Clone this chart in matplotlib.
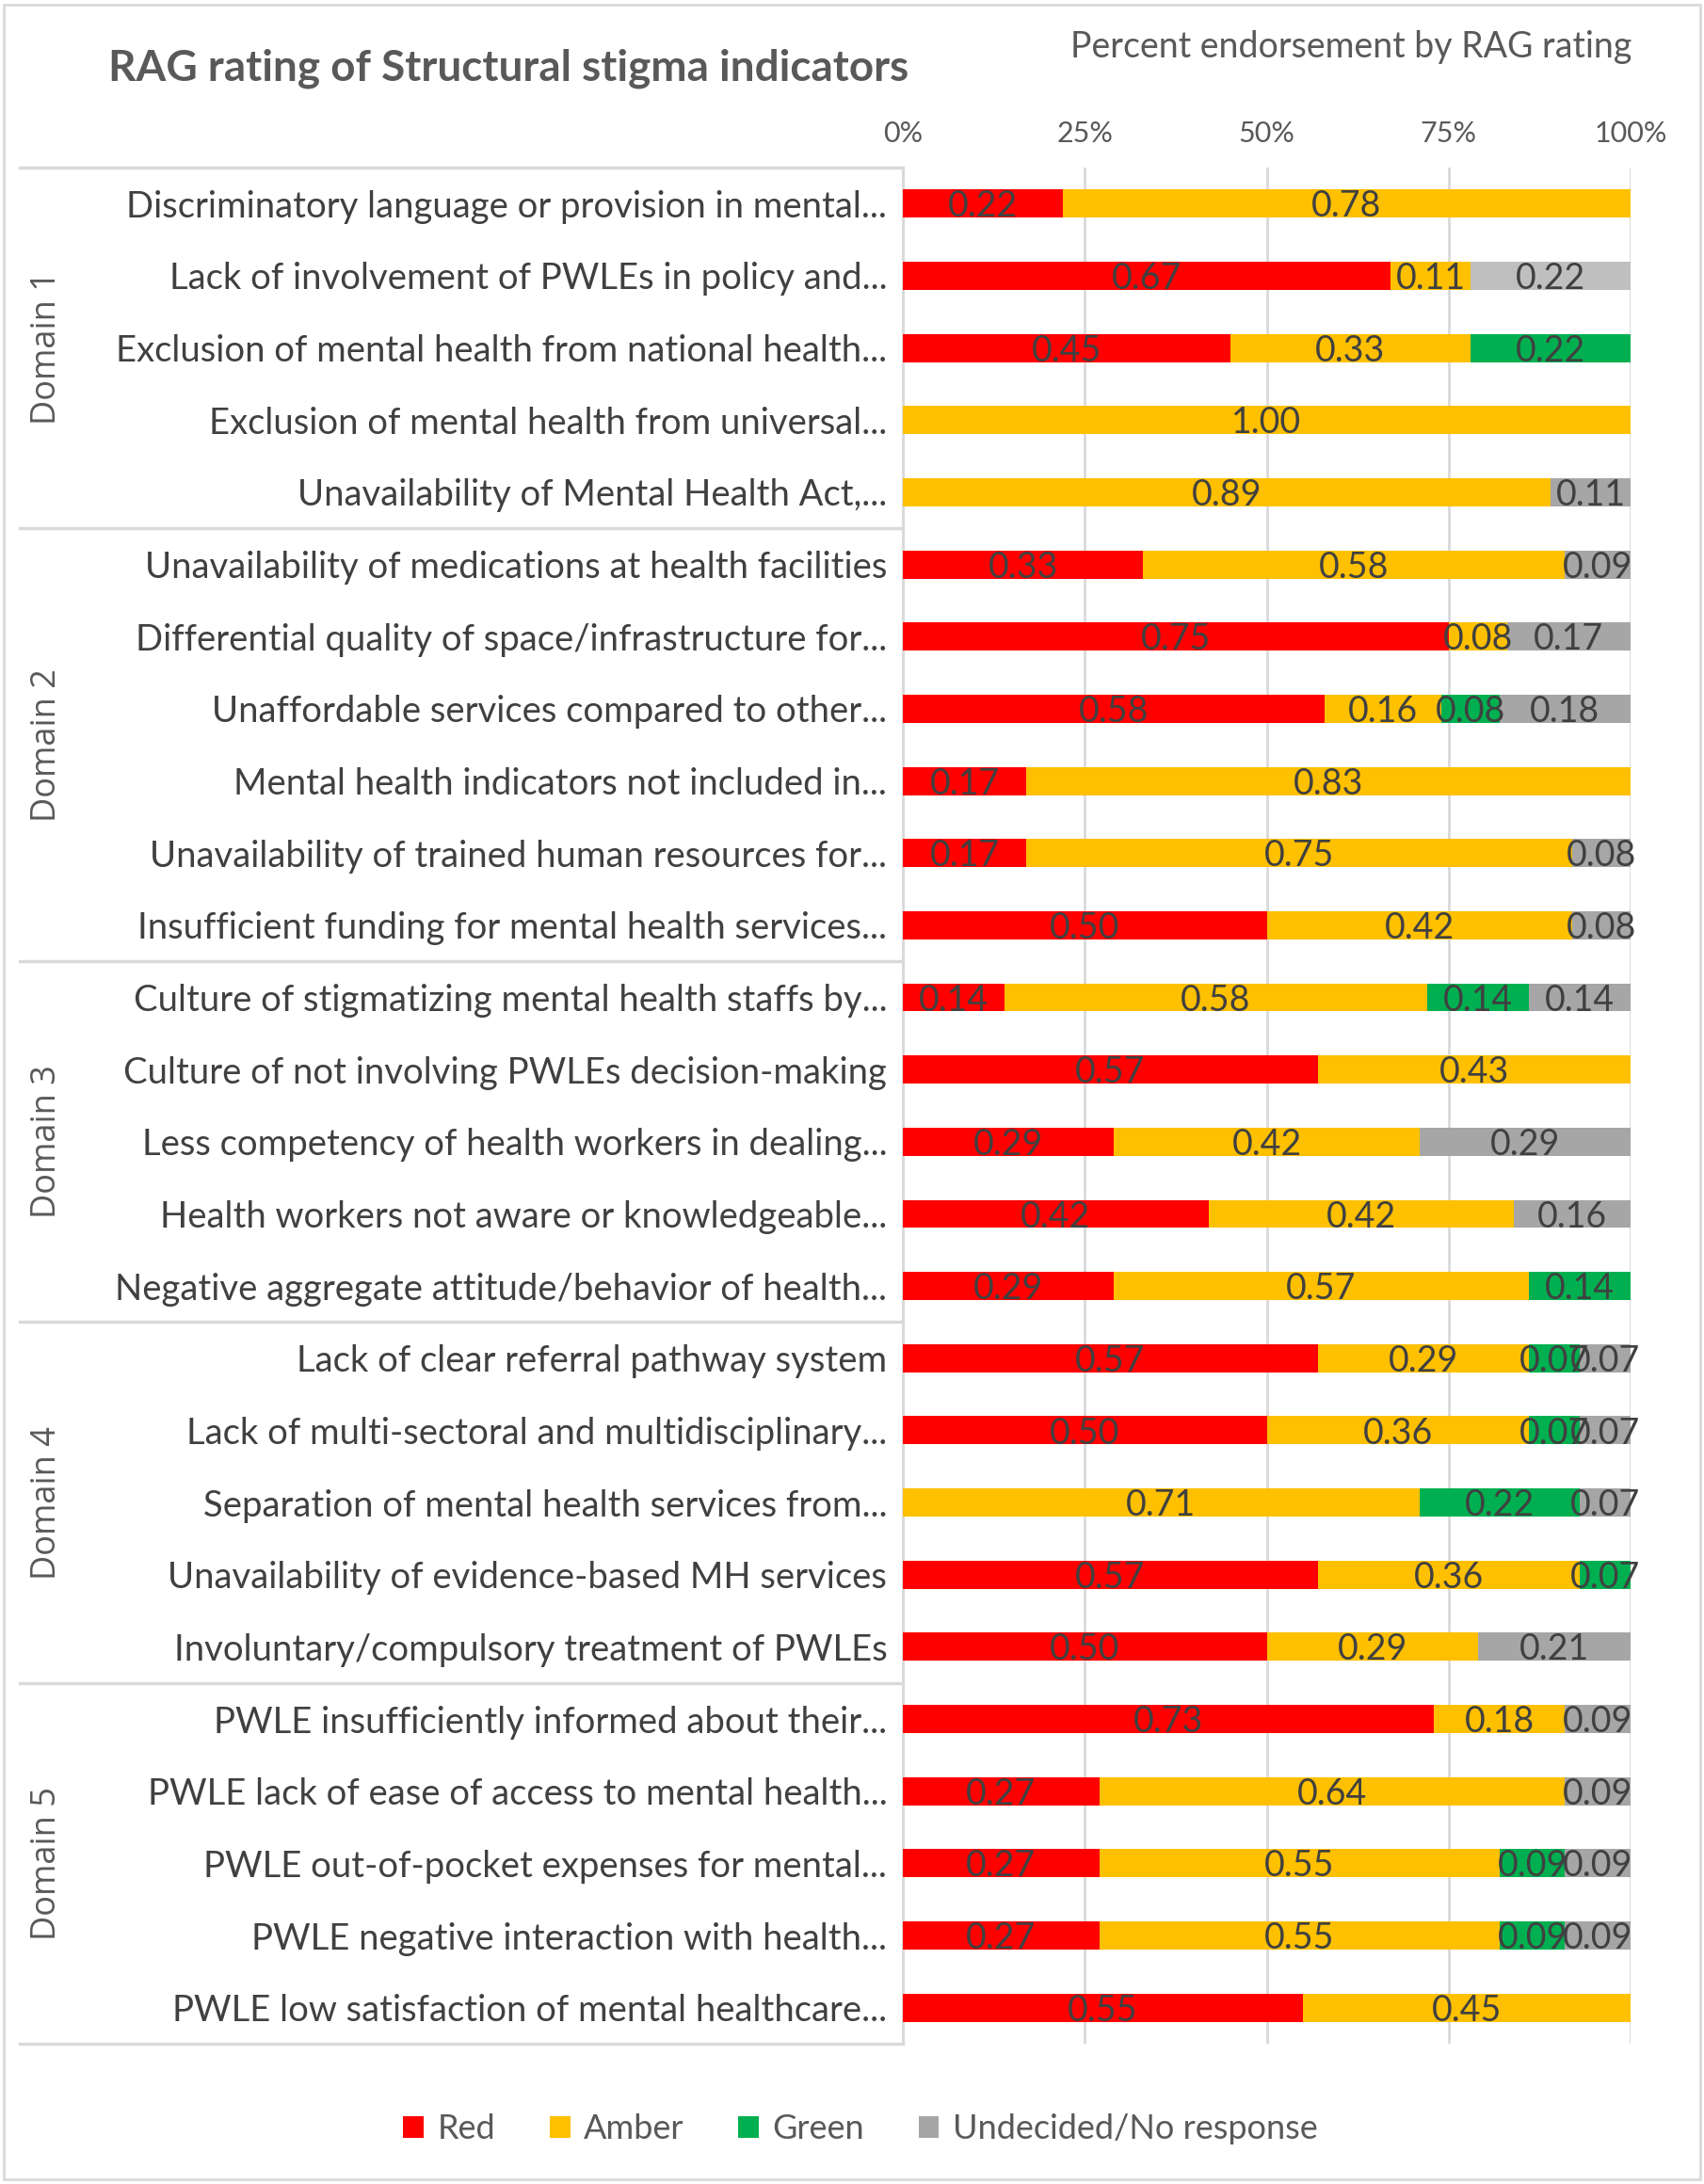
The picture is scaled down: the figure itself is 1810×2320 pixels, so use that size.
import matplotlib.pyplot as plt
from matplotlib.lines import Line2D
from matplotlib.patches import Rectangle
import numpy as np

plt.rcParams['font.family'] = ['Lato', 'DejaVu Sans']

# ---- data ----
indicators = [
    "Discriminatory language or provision in mental...",
    "Lack of involvement of PWLEs in policy and...",
    "Exclusion of mental health from national health...",
    "Exclusion of mental health from universal...",
    "Unavailability of Mental Health Act,...",
    "Unavailability of medications at health facilities",
    "Differential quality of space/infrastructure for...",
    "Unaffordable services compared to other...",
    "Mental health indicators not included in...",
    "Unavailability of trained human resources for...",
    "Insufficient funding for mental health services...",
    "Culture of stigmatizing mental health staffs by...",
    "Culture of not involving PWLEs decision-making",
    "Less competency of health workers in dealing...",
    "Health workers not aware or knowledgeable...",
    "Negative aggregate attitude/behavior of health...",
    "Lack of clear referral pathway system",
    "Lack of multi-sectoral and multidisciplinary...",
    "Separation of mental health services from...",
    "Unavailability of evidence-based MH services",
    "Involuntary/compulsory treatment of PWLEs",
    "PWLE insufficiently informed about their...",
    "PWLE lack of ease of access to mental health...",
    "PWLE out-of-pocket expenses for mental...",
    "PWLE negative interaction with health...",
    "PWLE low satisfaction of mental healthcare...",
]
domains = ["Domain 1", "Domain 2", "Domain 3", "Domain 4", "Domain 5"]
domain_sizes = [5, 6, 5, 5, 5]

red = [0.22, 0.67, 0.45, 0.00, 0.00,
       0.33, 0.75, 0.58, 0.17, 0.17, 0.50,
       0.14, 0.57, 0.29, 0.42, 0.29,
       0.57, 0.50, 0.00, 0.57, 0.50,
       0.73, 0.27, 0.27, 0.27, 0.55]
amber = [0.78, 0.11, 0.33, 1.00, 0.89,
         0.58, 0.08, 0.16, 0.83, 0.75, 0.42,
         0.58, 0.43, 0.42, 0.42, 0.57,
         0.29, 0.36, 0.71, 0.36, 0.29,
         0.18, 0.64, 0.55, 0.55, 0.45]
green = [0.00, 0.00, 0.22, 0.00, 0.00,
         0.00, 0.00, 0.08, 0.00, 0.00, 0.00,
         0.14, 0.00, 0.00, 0.00, 0.14,
         0.07, 0.07, 0.22, 0.07, 0.00,
         0.00, 0.00, 0.09, 0.09, 0.00]
undecided = [0.00, 0.22, 0.00, 0.00, 0.11,
             0.09, 0.17, 0.18, 0.00, 0.08, 0.08,
             0.14, 0.00, 0.29, 0.16, 0.00,
             0.07, 0.07, 0.07, 0.00, 0.21,
             0.09, 0.09, 0.09, 0.09, 0.00]

series_names = ["Red", "Amber", "Green", "Undecided/No response"]
series_values = [red, amber, green, undecided]
series_colors = ["#FF0000", "#FFC000", "#00B050", "#A6A6A6"]
x_ticks = [0, 0.25, 0.5, 0.75, 1.0]
x_ticklabels = ["0%", "25%", "50%", "75%", "100%"]

text_col = "#595959"
W, H = 1810, 2320
fig = plt.figure(figsize=(W / 100, H / 100), dpi=100)

# outer border
fig.patches.append(Rectangle((0.002, 0.002), 0.996, 0.996, transform=fig.transFigure,
                             fill=False, edgecolor="#D9D9D9", linewidth=2))

left, right, top, bottom = 959 / W, 1732 / W, 178 / H, 2171 / H
ax = fig.add_axes([left, 1 - bottom, right - left, bottom - top])

n = len(indicators)
y = np.arange(n)
cum = np.zeros(n)
for name, vals, col in zip(series_names, series_values, series_colors):
    vals = np.array(vals)
    colors = [col] * n
    if name.startswith("Undecided"):
        colors[1] = "#BFBFBF"
    ax.barh(y, vals, left=cum, height=0.39, color=colors, label=name, zorder=3)
    for i in range(n):
        if vals[i] > 0:
            ax.text(cum[i] + vals[i] / 2, y[i] + 0.04, f"{vals[i]:.2f}", ha="center",
                    va="center", fontsize=27, color="#404040", zorder=4)
    cum += vals

ax.set_xlim(0, 1)
ax.set_ylim(n - 0.5, -0.5)
ax.set_xticks(x_ticks)
ax.set_xticklabels(x_ticklabels, fontsize=22, color=text_col)
ax.xaxis.tick_top()
ax.tick_params(axis="x", length=0, pad=16)
ax.set_yticks(y)
ax.set_yticklabels(indicators, fontsize=27.5, color="#404040")
ax.tick_params(axis="y", length=0, pad=12)
ax.grid(axis="x", color="#D9D9D9", linewidth=2, zorder=0)
for s in ["top", "right", "bottom"]:
    ax.spines[s].set_visible(False)
ax.spines["left"].set_color("#D9D9D9")
ax.spines["left"].set_linewidth(2)

# domain separators and labels
row_h = (bottom - top) / n
x0 = 21 / W
start = 0
bounds = [0]
for d, size in zip(domains, domain_sizes):
    start += size
    bounds.append(start)
for b in bounds:
    yy = 1 - (top + b * row_h)
    fig.add_artist(Line2D([x0, left], [yy, yy], color="#D9D9D9", linewidth=2.5))
for k, d in enumerate(domains):
    mid = (bounds[k] + bounds[k + 1]) / 2
    fig.text(50 / W, 1 - (top + mid * row_h), d, rotation=90, ha="center", va="center",
             fontsize=26, color=text_col, family=["Open Sans", "DejaVu Sans"])

fig.text(115 / W, 1 - 73 / H, "RAG rating of Structural stigma indicators", fontsize=33,
         fontweight="bold", color=text_col, ha="left", va="center")
fig.text(1733 / W, 1 - 50 / H, "Percent endorsement by RAG rating", fontsize=27,
         color=text_col, ha="right", va="center")

fig.legend(loc="center", bbox_to_anchor=(0.505, 1 - 2262 / H), ncol=4, frameon=False,
           fontsize=26, handlelength=0.6, handleheight=0.6, handletextpad=0.4,
           columnspacing=1.6, labelcolor=text_col)

fig.savefig("out.png", dpi=100)
